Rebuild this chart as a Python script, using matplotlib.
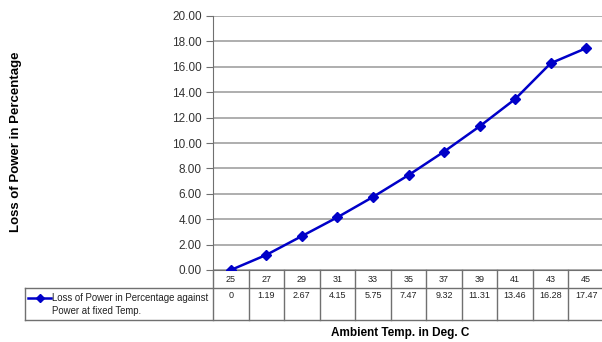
import matplotlib
matplotlib.use("Agg")
import matplotlib.pyplot as plt
from matplotlib.lines import Line2D
import matplotlib.transforms as mtransforms

plt.rcParams['font.family'] = ['Liberation Sans', 'DejaVu Sans']

temps = ['25', '27', '29', '31', '33', '35', '37', '39', '41', '43', '45']
loss = [0, 1.19, 2.67, 4.15, 5.75, 7.47, 9.32, 11.31, 13.46, 16.28, 17.47]
loss_labels = ['0', '1.19', '2.67', '4.15', '5.75', '7.47', '9.32', '11.31', '13.46', '16.28', '17.47']
series_name = 'Loss of Power in Percentage against\nPower at fixed Temp.'

W, H = 602, 342
AX_L, AX_R, AX_T, AX_B = 213, 604, 16, 270
fig = plt.figure(figsize=(W / 100, H / 100), dpi=100)
ax = fig.add_axes([AX_L / W, 1 - AX_B / H, (AX_R - AX_L) / W, (AX_B - AX_T) / H])

n = len(temps)
colw = (AX_R - AX_L) / n
x = list(range(n))
ax.plot(x, loss, color='#0000C8', lw=1.8, marker='D', ms=5.5, zorder=3)
ax.set_xlim(-0.5, n - 0.5)
ax.set_ylim(0, 20)
ax.set_yticks([0, 2, 4, 6, 8, 10, 12, 14, 16, 18, 20])
ax.set_yticklabels(['%.2f' % v for v in ax.get_yticks()], fontsize=8.5, color='#333333')
ax.yaxis.grid(True, color='#A8A8A8', lw=1.3)
ax.set_axisbelow(True)
ax.set_xticks([])
for s in ['top', 'right']:
    ax.spines[s].set_visible(False)
ax.spines['left'].set_color('#707070')
ax.spines['bottom'].set_color('#707070')
ax.tick_params(axis='y', length=5, color='#707070', pad=3)

# table
trans = mtransforms.blended_transform_factory(ax.transData, ax.transAxes)
ph = float(AX_B - AX_T)
y_hdr = -18 / ph
y_bot = -50 / ph
left_x = -0.5 - (AX_L - 25) / colw
lc = '#707070'

def hline(x0, x1, y):
    ax.add_line(Line2D([x0, x1], [y, y], transform=trans, color=lc, lw=1, clip_on=False))

def vline(xx, y0, y1):
    ax.add_line(Line2D([xx, xx], [y0, y1], transform=trans, color=lc, lw=1, clip_on=False))

hline(left_x, n - 0.5, y_hdr)
hline(left_x, n - 0.5, y_bot)
vline(left_x, y_hdr, y_bot)
for i in range(n + 1):
    vline(i - 0.5, 0, y_bot)

for i, (t, lab) in enumerate(zip(temps, loss_labels)):
    ax.text(i, -9.5 / ph, t, transform=trans, ha='center', va='center', fontsize=6.5, color='#222222')
    ax.text(i, -25 / ph, lab, transform=trans, ha='center', va='center', fontsize=6.5, color='#222222')

# legend key in table
lx0 = left_x + 3 / colw
lx1 = left_x + 26 / colw
ax.add_line(Line2D([lx0, lx1], [-28 / ph, -28 / ph], transform=trans, color='#0000C8', lw=1.8, clip_on=False))
ax.add_line(Line2D([(lx0 + lx1) / 2], [-28 / ph], transform=trans, color='#0000C8', marker='D', ms=4,
                   clip_on=False))
ax.text(lx1 + 0.5 / colw, -34.5 / ph, series_name, transform=trans, ha='left', va='center', fontsize=6.9,
        color='#222222', linespacing=1.45)

fig.text(400 / W, 1 - 333 / H, 'Ambient Temp. in Deg. C', ha='center', va='center', fontsize=8.5,
         fontweight='bold')
fig.text(16 / W, 1 - 142 / H, 'Loss of Power in Percentage', ha='center', va='center', rotation=90,
         fontsize=9.5, fontweight='bold')

fig.savefig('out.png', dpi=100)
